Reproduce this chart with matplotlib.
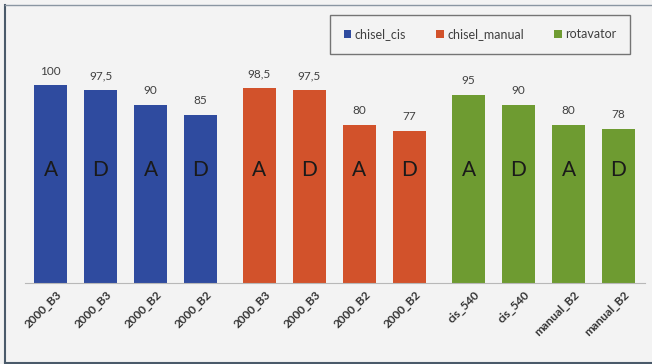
import matplotlib
matplotlib.use("Agg")
import matplotlib.pyplot as plt
import matplotlib.transforms as mtransforms
from matplotlib.patches import Patch
from matplotlib.lines import Line2D
import numpy as np

plt.rcParams['font.family'] = ['Lato', 'DejaVu Sans']

# data
groups = ['chisel_cis', 'chisel_manual', 'rotavator']
group_colors = ['#2f4b9f', '#d2522b', '#6e9b31']
labels = ['2000_B3', '2000_B3', '2000_B2', '2000_B2',
          '2000_B3', '2000_B3', '2000_B2', '2000_B2',
          'cis_540', 'cis_540', 'manual_B2', 'manual_B2']
values = [100, 97.5, 90, 85,
          98.5, 97.5, 80, 77,
          95, 90, 80, 78]
letters = ['A', 'D', 'A', 'D', 'A', 'D', 'A', 'D', 'A', 'D', 'A', 'D']
group_of = [0, 0, 0, 0, 1, 1, 1, 1, 2, 2, 2, 2]

# x positions: 4 bars per group, small extra gap between groups
gap = 0.18
xs = np.array([i + gap * g for i, g in enumerate(group_of)])

bg = '#f3f3f3'
fig = plt.figure(figsize=(6.52, 3.64), dpi=100, facecolor=bg)
ax = fig.add_axes([25 / 652, 81 / 364, 620 / 652, 263 / 364])
ax.set_facecolor(bg)

colors = [group_colors[g] for g in group_of]
bars = ax.bar(xs, values, width=0.67, color=colors)

for x, v, t in zip(xs, values, letters):
    ax.annotate(f"{v:g}".replace('.', ','), (x, v), xytext=(0, 10),
                textcoords='offset points', ha='center', va='center',
                fontsize=8.5, color='#404040')
    ax.text(x, 57, t, ha='center', va='center', fontsize=15, color='#1a1a1a')

ax.set_xlim(-0.51, 11.89)
ax.set_ylim(0, 132.8)
ax.set_yticks([])
ax.set_xticks(xs)
ax.set_xticklabels(labels, rotation=45, ha='right', fontsize=8.5,
                   color='#333333', fontweight='bold')
ax.tick_params(axis='x', length=0, pad=4)
shift = mtransforms.ScaledTranslation(0.13, 0, fig.dpi_scale_trans)
for lab in ax.get_xticklabels():
    lab.set_transform(lab.get_transform() + shift)

for s in ['top', 'right', 'left']:
    ax.spines[s].set_visible(False)
ax.spines['bottom'].set_color('#b8b8b8')
ax.spines['bottom'].set_linewidth(0.8)

handles = [Patch(facecolor=c, edgecolor='none', label=n)
           for c, n in zip(group_colors, groups)]
leg = fig.legend(handles=handles, loc='upper right', ncol=3,
                 bbox_to_anchor=(636 / 652, 1 - 9 / 364),
                 fontsize=9, frameon=True, fancybox=False,
                 handlelength=0.6, handleheight=0.6, handletextpad=0.3,
                 columnspacing=2.4, borderpad=1.05, labelcolor='#404040')
leg.get_frame().set_edgecolor('#555555')
leg.get_frame().set_linewidth(1.0)
leg.get_frame().set_facecolor(bg)

# outer frame
frame_kw = dict(transform=fig.transFigure, color='#4a5a6a', linewidth=1.5)
fig.add_artist(Line2D([4.5 / 652, 4.5 / 652], [2 / 364, 1 - 5 / 364], **frame_kw))
fig.add_artist(Line2D([4.5 / 652, 1], [1 - 5 / 364, 1 - 5 / 364],
                      transform=fig.transFigure, color='#8a96a2', linewidth=1.0))
fig.add_artist(Line2D([4.5 / 652, 1], [1.5 / 364, 1.5 / 364], **frame_kw))

fig.savefig('out.png', dpi=100, facecolor=bg)
